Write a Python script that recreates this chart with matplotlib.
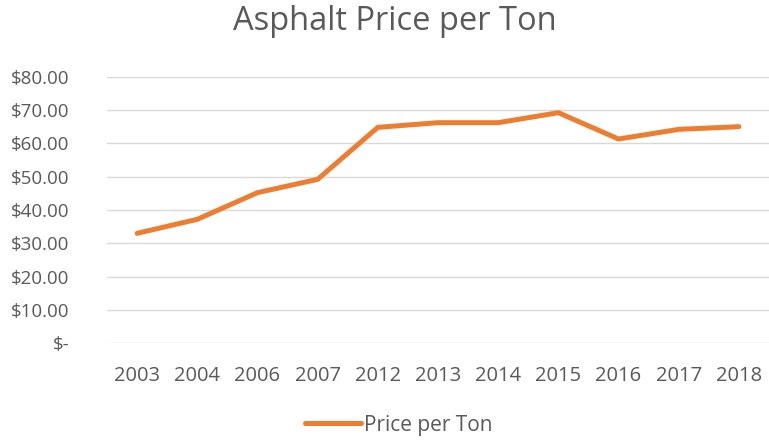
import matplotlib
matplotlib.use("Agg")
import matplotlib.pyplot as plt

years = ["2003", "2004", "2006", "2007", "2012", "2013", "2014", "2015", "2016", "2017", "2018"]
prices = [33.0, 37.2, 45.2, 49.2, 64.8, 66.2, 66.2, 69.2, 61.3, 64.2, 65.0]
yticks = [0, 10, 20, 30, 40, 50, 60, 70, 80]
ytick_labels = ["$-", "$10.00", "$20.00", "$30.00", "$40.00", "$50.00", "$60.00", "$70.00", "$80.00"]

plt.rcParams['font.family'] = ['Open Sans', 'DejaVu Sans']
text_color = "#595959"

fig = plt.figure(figsize=(7.69, 4.40), dpi=100)
ax = fig.add_axes([107/769, (440-343.3)/440, (769-107)/769, (343.3-76.7)/440])

x = list(range(len(years)))
line, = ax.plot(x, prices, color="#ED7D31", linewidth=3.6, solid_capstyle="round",
                solid_joinstyle="round", label="Price per Ton")

ax.set_xlim(-0.5, len(years) - 0.5)
ax.set_ylim(0, 80)
ax.set_yticks(yticks)
ax.set_yticklabels(ytick_labels)
ax.set_xticks(x)
ax.set_xticklabels(years)
ax.tick_params(axis="x", length=0, labelsize=14.5, colors=text_color, pad=16)
ax.tick_params(axis="y", length=0, labelsize=13.5, colors=text_color, pad=27)
ax.grid(axis="y", color="#d9d9d9", linewidth=1.0)
ax.set_axisbelow(True)
for s in ax.spines.values():
    s.set_visible(False)

fig.text(394.5/769, 1 - 22/440, "Asphalt Price per Ton", ha="center", va="center",
         fontsize=23.5, color=text_color)

fig.legend(handles=[line], loc="center", bbox_to_anchor=(399/769, 1 - 425/440), frameon=False,
           fontsize=15, labelcolor=text_color, handlelength=2.7, handletextpad=0.15)

fig.savefig("out.png", dpi=100)
